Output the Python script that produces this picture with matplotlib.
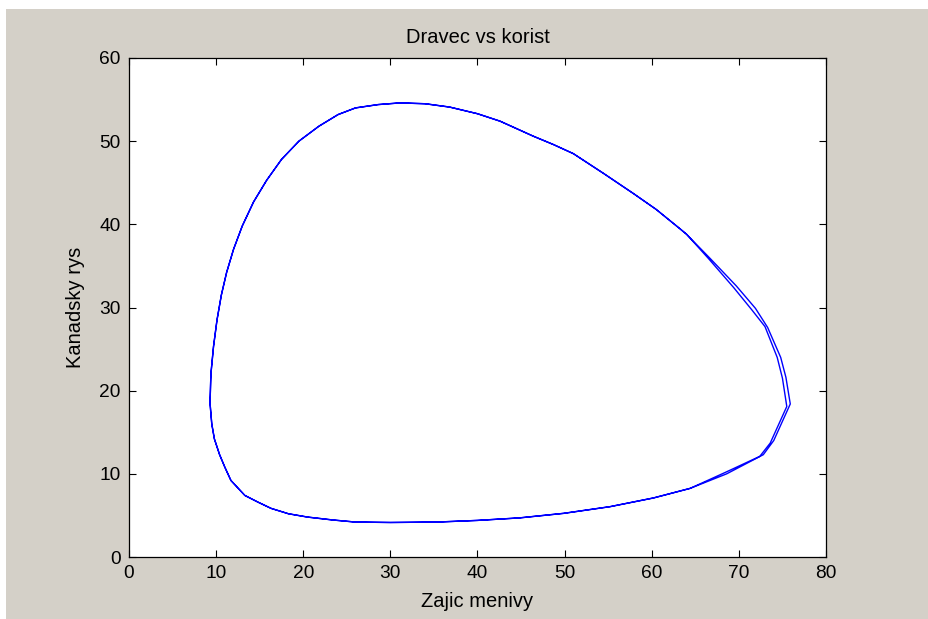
import matplotlib.pyplot as plt
from matplotlib.patches import Rectangle

# Prey (Zajic menivy) vs predator (Kanadsky rys), two laps of the cycle.
# Shared part: top middle -> left side -> bottom
left_x = [31.1, 28.6, 26.0, 24.0, 21.8, 19.5, 17.5, 15.8, 14.3, 13.0, 12.0, 11.2,
          10.6, 10.1, 9.7, 9.4, 9.3, 9.5, 9.8, 10.4, 11.0, 11.7, 13.3, 14.8, 16.3,
          18.3, 20.5, 23.4, 26.0, 30.0, 35.3, 40.0, 44.8, 49.9, 55.2, 60.2, 64.4]
left_y = [54.6, 54.4, 54.0, 53.2, 51.8, 50.0, 47.8, 45.3, 42.7, 39.8, 37.0, 34.2,
          31.5, 28.5, 25.3, 22.0, 18.5, 16.0, 14.2, 12.3, 10.8, 9.2, 7.4, 6.6, 5.85,
          5.2, 4.8, 4.45, 4.2, 4.15, 4.2, 4.4, 4.7, 5.25, 6.05, 7.1, 8.25]

# right side, first lap
right1_x = [68.5, 72.4, 73.6, 75.5, 75.0, 74.4, 73.0, 71.5, 69.4, 66.5, 64.0]
right1_y = [10.2, 12.1, 13.7, 18.1, 21.5, 24.0, 27.7, 29.7, 32.4, 35.9, 38.8]

# right side, second lap
right2_x = [68.6, 72.8, 74.0, 75.9, 75.4, 74.8, 73.3, 71.9, 69.7, 66.7, 64.0]
right2_y = [10.0, 12.3, 14.0, 18.4, 21.6, 24.0, 27.6, 29.9, 32.6, 35.9, 38.8]

# top going back to the start
top_x = [63.2, 60.5, 57.9, 54.5, 51.0, 48.7, 46.4, 42.6, 40.0, 36.8, 34.0, 31.1]
top_y = [39.5, 41.8, 43.7, 46.1, 48.5, 49.6, 50.6, 52.4, 53.3, 54.1, 54.5, 54.6]

x = left_x + right1_x + top_x + left_x + right2_x + top_x
y = left_y + right1_y + top_y + left_y + right2_y + top_y

plt.rcParams['font.family'] = ['Liberation Sans', 'DejaVu Sans']

fig = plt.figure(figsize=(9.29, 6.19), dpi=100, facecolor='white')
# grey MATLAB figure area (thin white strip at top and left)
fig.patches.append(Rectangle((6/929, 0), 1, 1 - 9/619, transform=fig.transFigure,
                             facecolor='#d4d0c8', edgecolor='none', zorder=-1))

ax = fig.add_axes([129/929, 62/619, 697/929, 499/619])
ax.plot(x, y, color='blue', lw=1.0)

ax.set_xlim(0, 80)
ax.set_ylim(0, 60)
ax.set_xticks(range(0, 81, 10))
ax.set_yticks(range(0, 61, 10))
ax.tick_params(direction='in', top=True, right=True, length=5, width=0.8,
               labelsize=13.8, colors='black', pad=6)
for s in ax.spines.values():
    s.set_linewidth(0.9)

ax.set_title('Dravec vs korist', fontsize=14.5, pad=11)
ax.set_xlabel('Zajic menivy', fontsize=14.5, labelpad=7)
ax.set_ylabel('Kanadsky rys', fontsize=14.5, labelpad=10)

fig.savefig('out.png', dpi=100, facecolor=fig.get_facecolor())
